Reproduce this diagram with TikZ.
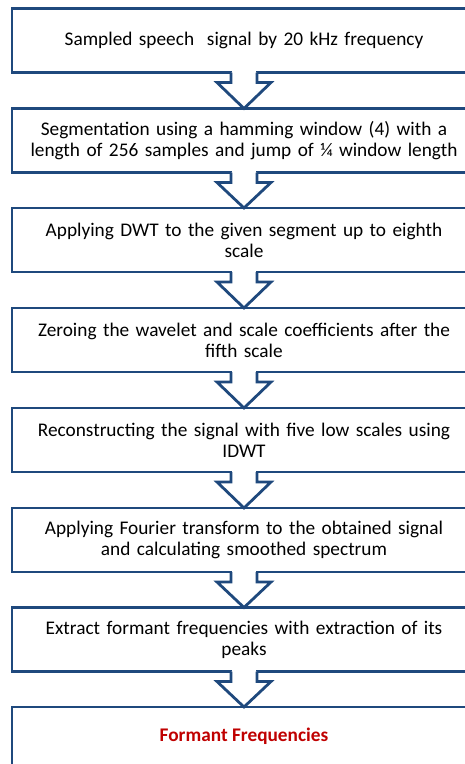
\documentclass[tikz,border=0pt]{standalone}
\usepackage{fontspec}
\setmainfont{Carlito}
\usetikzlibrary{calc}
\definecolor{boxblue}{RGB}{31,73,125}
\definecolor{boxred}{RGB}{192,0,0}
\tikzset{
  stepbox/.style={draw=boxblue, line width=2.8pt, fill=white, rectangle, minimum width=464pt, minimum height=64pt, inner sep=0pt, outer sep=0pt, align=center, text width=450pt, font=\fontsize{19.3}{21}\selectfont},
  blockarrow/.style={draw=boxblue, line width=2.8pt, line join=miter, fill=white},
}
\begin{document}
\begin{tikzpicture}[x=1pt,y=-1pt]
\useasboundingbox (0,0) rectangle (465,764);
\clip (0,0) rectangle (465,764);
\node[stepbox] (b1) at (244,40.5) {Sampled speech\ \ signal by 20 kHz frequency};
\node[stepbox] (b2) at (244,140.5) {Segmentation using a hamming window (4) with a\\length of 256 samples and jump of ¼ window length};
\node[stepbox] (b3) at (244,240) {Applying DWT to the given segment up to eighth\\scale};
\node[stepbox] (b4) at (244,340) {Zeroing the wavelet and scale coefficients after the\\fifth scale};
\node[stepbox] (b5) at (244,440) {Reconstructing the signal with five low scales using\\IDWT};
\node[stepbox] (b6) at (244,540) {Applying Fourier transform to the obtained signal\\and calculating smoothed spectrum};
\node[stepbox] (b7) at (244,639.5) {Extract formant frequencies with extraction of its\\peaks};
\node[stepbox] (b8) at (244,739) {};
\node[font=\fontsize{19.3}{21}\selectfont\bfseries, text=boxred] (t8) at (244,736) {Formant Frequencies};
\foreach \a/\b in {b1/b2,b2/b3,b3/b4,b4/b5,b5/b6,b6/b7,b7/b8}{
  \fill[white] ($(\a.south)+(-12,-2)$) rectangle ($(\a.south)+(12,2)$);
  \draw[blockarrow] ($(\a.south)+(-13,0)$) -- ++(0,10) -- ++(-14,0) -- (\b.north) -- ($(\a.south)+(27,10)$) -- ++(-14,0) -- ++(0,-10);
}
\end{tikzpicture}
\end{document}
